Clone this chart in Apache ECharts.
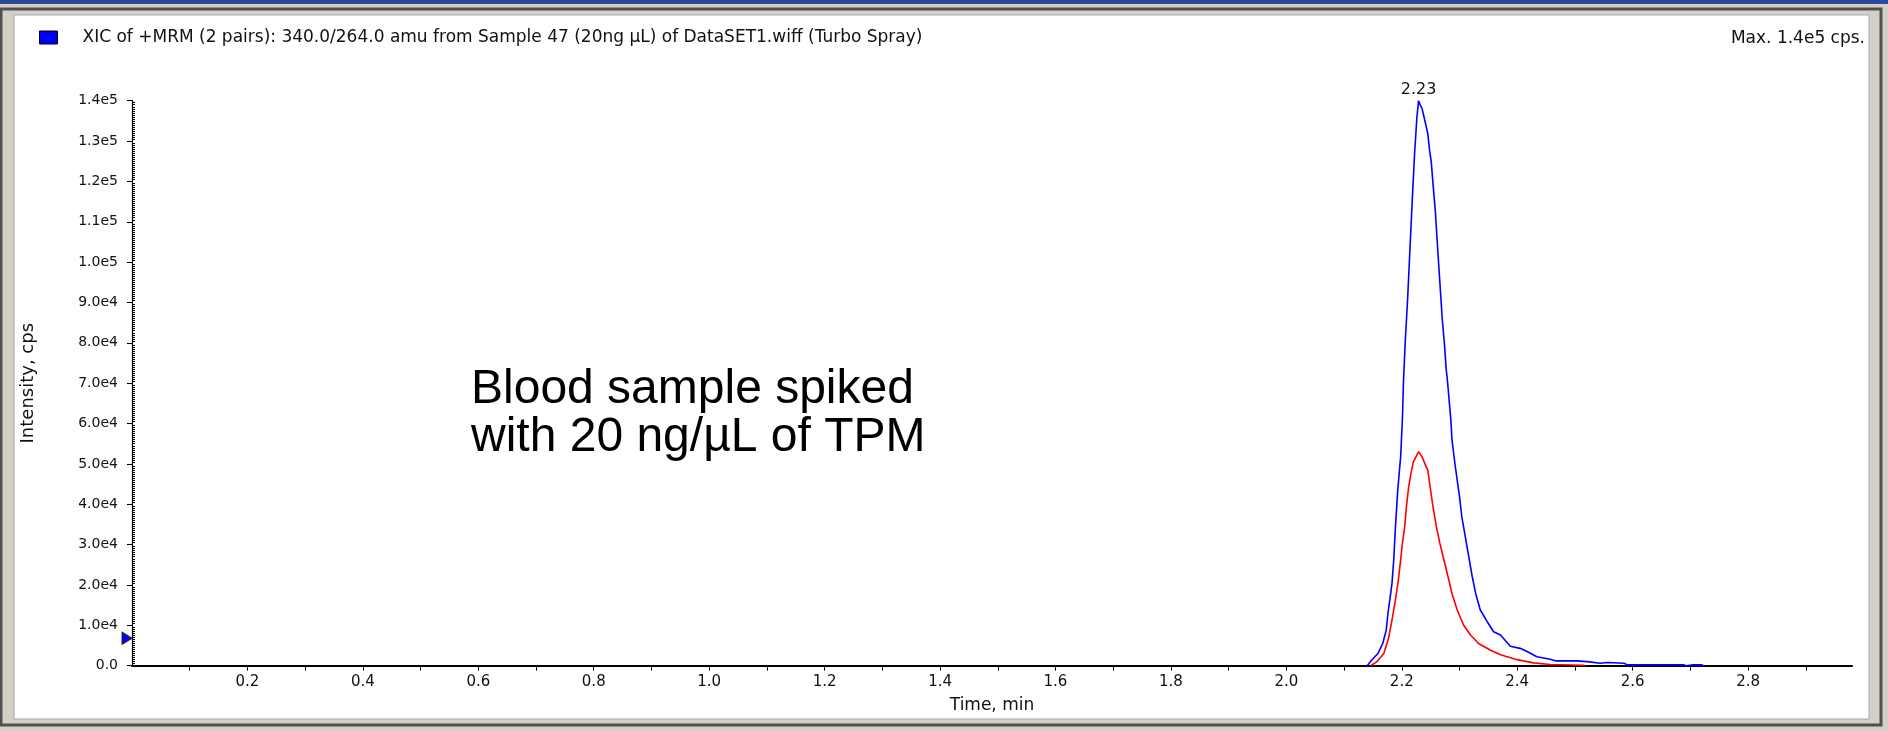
<!DOCTYPE html>
<html>
<head>
<meta charset="utf-8">
<script src="https://cdn.jsdelivr.net/npm/echarts@6/dist/echarts.min.js"></script>
<style>
html,body{margin:0;padding:0;background:#d4d0c8;}
#chart{width:1888px;height:731px;}
</style>
</head>
<body>
<div id="chart"></div>
<script>
// ---- data ----
const seriesTitle = 'XIC of +MRM (2 pairs): 340.0/264.0 amu from Sample 47 (20ng µL) of DataSET1.wiff (Turbo Spray)';
const maxText = 'Max. 1.4e5 cps.';
const annotationLines = ['Blood sample spiked', 'with 20 ng/µL of TPM'];

const blueTime = [2.140,2.148,2.159,2.167,2.173,2.176,2.180,2.183,2.186,2.189,2.193,2.198,2.201,2.203,2.206,2.210,2.213,2.216,2.219,2.222,2.226,2.229,
  2.232,2.235,2.237,2.241,2.245,2.248,2.251,2.254,2.258,2.261,2.264,2.267,2.270,2.274,2.277,2.279,2.282,2.285,2.287,2.292,2.296,2.300,2.304,2.310,2.316,2.322,2.328,2.336,2.348,2.359,2.371,2.388,2.405,2.417,2.434,2.457,2.466,2.503,2.521,2.544,2.556,2.585,2.591,2.688,2.693,2.705,2.720,2.723];
const blueIntensity = [0,1400,3100,5500,8800,13000,17100,20400,26200,34400,43500,51800,60900,70800,80400,90600,99800,109000,117900,126500,135600,140000,
  138900,138100,136900,134400,131900,127800,124900,119500,112900,105900,99300,92700,86100,79500,73300,70800,65800,60900,55900,50100,46000,41900,36900,32000,27000,22100,17900,13800,10900,8400,7600,4800,4300,3500,2200,1600,1200,1200,1000,600,800,600,200,200,0,200,200,0];

const redTime = [2.146,2.157,2.169,2.177,2.183,2.189,2.194,2.198,2.201,2.205,2.208,2.212,2.216,2.220,2.226,2.229,2.235,2.241,2.245,2.249,2.254,2.260,2.266,2.273,2.280,2.287,2.296,2.307,2.319,2.333,2.353,2.371,2.400,2.428,2.457,2.515,2.518];
const redIntensity = [0,1000,3100,6800,11300,16300,21200,26200,30300,34400,39400,44400,47700,50500,52200,53000,51800,49700,48500,44400,39400,34400,30300,26200,22100,17900,13800,10100,7600,5500,3900,2700,1500,700,300,100,0];

const xTickValues = [0.1,0.2,0.3,0.4,0.5,0.6,0.7,0.8,0.9,1.0,1.1,1.2,1.3,1.4,1.5,1.6,1.7,1.8,1.9,2.0,2.1,2.2,2.3,2.4,2.5,2.6,2.7,2.8,2.9];
const xLabelValues = [0.2,0.4,0.6,0.8,1.0,1.2,1.4,1.6,1.8,2.0,2.2,2.4,2.6,2.8];
const yTickLabels = ['0.0','1.0e4','2.0e4','3.0e4','4.0e4','5.0e4','6.0e4','7.0e4','8.0e4','9.0e4','1.0e5','1.1e5','1.2e5','1.3e5','1.4e5'];
const markerIntensity = 6800;

// ---- build ----
const zip = (a, b) => a.map((v, i) => [v, b[i]]);
let peakIdx = 0;
blueIntensity.forEach((v, i) => { if (v > blueIntensity[peakIdx]) peakIdx = i; });

const FONT = 'DejaVu Sans';
const chart = echarts.init(document.getElementById('chart'));
chart.setOption({
  backgroundColor: '#d4d0c8',
  animation: false,
  title: {
    text: maxText, right: 18, top: 25,
    textStyle: { fontFamily: FONT, fontSize: 17, fontWeight: 'normal', color: '#111' }
  },
  legend: {
    data: [seriesTitle], left: 34, top: 24, itemWidth: 18, itemHeight: 13,
    icon: 'rect', selectedMode: false,
    itemStyle: { borderColor: '#000', borderWidth: 1 },
    textStyle: { fontFamily: FONT, fontSize: 17, color: '#111', padding: [0, 0, 0, 20] }
  },
  grid: { left: 132, right: 36, top: 100.7, bottom: 65.3, containLabel: false },
  xAxis: {
    type: 'value', min: 0, max: 2.98,
    name: 'Time, min', nameLocation: 'middle', nameGap: 31,
    nameTextStyle: { fontFamily: FONT, fontSize: 17, color: '#111' },
    axisLine: { lineStyle: { color: '#000', width: 2 } },
    axisTick: { show: true, length: 5, customValues: xTickValues, lineStyle: { color: '#000' } },
    axisLabel: { customValues: xLabelValues, margin: 9, fontFamily: FONT, fontSize: 15, color: '#111',
      formatter: v => v.toFixed(1) },
    splitLine: { show: false }
  },
  yAxis: {
    type: 'value', min: 0, max: 140000, interval: 10000,
    name: 'Intensity, cps', nameLocation: 'middle', nameGap: 95,
    nameTextStyle: { fontFamily: FONT, fontSize: 18, color: '#111' },
    axisLine: { show: true, lineStyle: { color: '#000', width: 1.2 } },
    axisTick: { show: true, length: 5, lineStyle: { color: '#000' } },
    minorTick: { show: true, splitNumber: 20, length: -3, lineStyle: { color: '#000', width: 1 } },
    axisLabel: { margin: 14, fontFamily: FONT, fontSize: 14, color: '#111',
      formatter: v => yTickLabels[Math.round(v / 10000)] },
    splitLine: { show: false }
  },
  series: [
    {
      name: seriesTitle, type: 'line', data: zip(blueTime, blueIntensity),
      showSymbol: false, symbol: 'none', lineStyle: { color: '#0000ff', width: 1.6 },
      itemStyle: { color: '#0000ff' }, z: 3,
      markPoint: {
        symbol: 'circle', symbolSize: 0,
        label: { show: true, position: 'top', distance: 3, fontFamily: FONT, fontSize: 16, color: '#111',
          formatter: () => blueTime[peakIdx].toFixed(2) },
        data: [{ coord: [blueTime[peakIdx], blueIntensity[peakIdx]] }]
      }
    },
    {
      name: 'red', type: 'line', data: zip(redTime, redIntensity),
      showSymbol: false, symbol: 'none', lineStyle: { color: '#ff0000', width: 1.6 },
      itemStyle: { color: '#ff0000' }, z: 2,
      markPoint: {
        symbol: 'triangle', symbolRotate: -90, symbolSize: [12, 10], symbolOffset: [-5, 0],
        itemStyle: { color: '#0000ff', borderColor: '#222', borderWidth: 1 },
        label: { show: false },
        data: [{ coord: [0, markerIntensity] }]
      }
    }
  ],
  graphic: [
    { type: 'rect', z: -20, shape: { x: 0, y: 0, width: 1888, height: 4 }, style: { fill: '#2a4a9a' } },
    { type: 'rect', z: -19, shape: { x: 1, y: 9, width: 1880, height: 716 }, style: { fill: 'none', stroke: '#505050', lineWidth: 3 } },
    { type: 'rect', z: -18, shape: { x: 14, y: 15, width: 1855, height: 704 }, style: { fill: '#ffffff', stroke: '#a8a8a8', lineWidth: 1 } },
    { type: 'text', z: 5, left: 471, top: 366,
      style: { text: annotationLines.join('\n'), fontFamily: 'Liberation Sans, Arial', fontSize: 48, lineHeight: 48, fill: '#000' } }
  ]
});
</script>
</body>
</html>
